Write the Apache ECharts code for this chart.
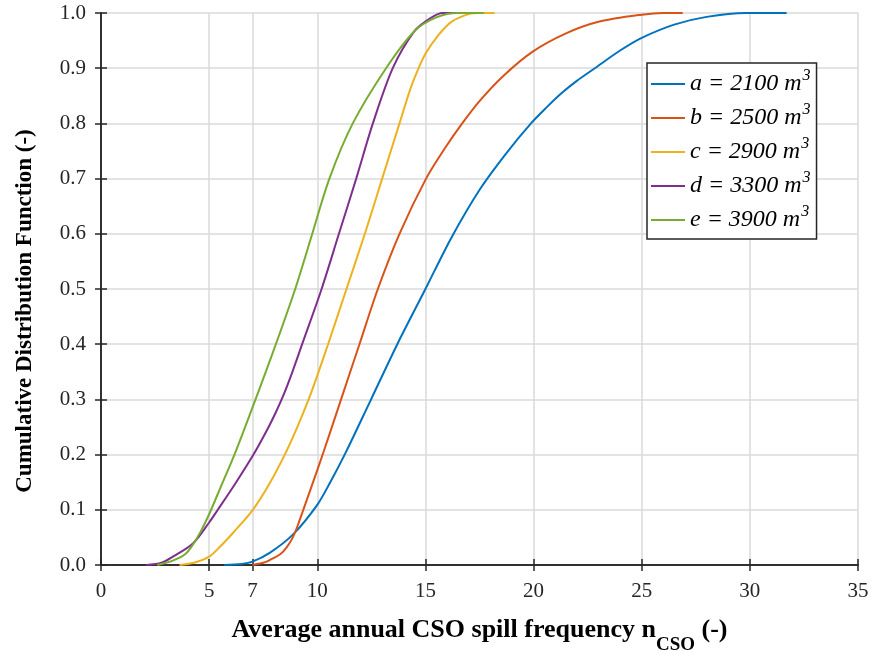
<!DOCTYPE html>
<html>
<head>
<meta charset="utf-8">
<script src="https://cdn.jsdelivr.net/npm/echarts@6/dist/echarts.min.js"></script>
<style>
  html, body { margin: 0; padding: 0; background: #fff; }
  #chart { width: 873px; height: 656px; }
</style>
</head>
<body>
<div id="chart"></div>
<script>
// Cumulative distribution of the average annual CSO spill frequency for five storage volumes
const seriesNames = ['a = 2100 m', 'b = 2500 m', 'c = 2900 m', 'd = 3300 m', 'e = 3900 m'];
const seriesColors = ['#0072BD', '#D95319', '#EDB120', '#7E2F8E', '#77AC30'];

const xTicks = [0, 5, 7, 10, 15, 20, 25, 30, 35];

// [spill frequency, cumulative probability]
const cdfA = [[5.7,0],[6.5,0.002],[7.0,0.006],[7.8,0.022],[8.87,0.055],[10.0,0.109],[10.6,0.15],[11.33,0.205],[12.45,0.297],[13.7,0.40],[15.0,0.50],[16.2,0.593],[17.49,0.679],[18.7,0.744],[19.88,0.80],[20.6,0.829],[21.3,0.855],[22.0,0.877],[22.8,0.899],[24.0,0.932],[25.0,0.955],[26.5,0.979],[28.0,0.993],[29.8,1.0],[31.7,1.0]];
const cdfB = [[7.0,0],[7.5,0.004],[7.8,0.009],[8.3,0.02],[8.6,0.033],[8.87,0.05],[9.1,0.072],[9.3,0.094],[10.0,0.172],[10.3,0.206],[11.1,0.30],[11.95,0.40],[12.8,0.50],[13.8,0.60],[15.03,0.70],[15.9,0.755],[16.7,0.80],[17.49,0.84],[18.6,0.886],[19.96,0.93],[21.5,0.963],[23.0,0.984],[25.0,0.997],[26.0,1.0],[26.9,1.0]];
const cdfC = [[3.63,0],[4.3,0.004],[5.0,0.015],[5.5,0.033],[6.1,0.058],[7.02,0.10],[7.8,0.148],[8.56,0.205],[9.1,0.252],[9.6,0.30],[10.0,0.343],[10.5,0.40],[11.35,0.50],[12.2,0.60],[13.0,0.70],[13.8,0.80],[14.3,0.862],[14.63,0.895],[15.0,0.926],[15.6,0.96],[16.2,0.984],[17.0,0.998],[17.5,1.0],[18.2,1.0]];
const cdfD = [[2.09,0],[2.8,0.004],[3.32,0.015],[4.25,0.039],[5.0,0.077],[5.4,0.10],[6.25,0.15],[7.05,0.20],[7.75,0.25],[8.1,0.278],[8.45,0.309],[8.85,0.35],[9.3,0.40],[10.2,0.50],[11.0,0.60],[11.8,0.70],[12.57,0.80],[13.49,0.90],[14.49,0.967],[15.2,0.99],[15.8,1.0],[16.7,1.0]];
const cdfE = [[2.6,0],[3.32,0.008],[3.9,0.02],[4.25,0.037],[4.6,0.06],[5.0,0.092],[5.5,0.138],[6.17,0.20],[7.0,0.285],[7.6,0.348],[8.25,0.418],[8.98,0.50],[9.52,0.568],[9.72,0.594],[10.56,0.70],[11.64,0.80],[13.18,0.90],[14.49,0.967],[15.5,0.992],[16.5,1.0],[17.7,1.0]];

const seriesData = [cdfA, cdfB, cdfC, cdfD, cdfE];

const serif = "'Liberation Serif', 'Times New Roman', serif";
const axisColor = '#262626';

const chart = echarts.init(document.getElementById('chart'), null, { renderer: 'canvas' });

const series = seriesData.map((d, i) => ({
  name: seriesNames[i],
  type: 'line',
  data: d,
  showSymbol: false,
  smooth: 0.3,
  lineStyle: { color: seriesColors[i], width: 2 },
  itemStyle: { color: seriesColors[i] },
  emphasis: { disabled: true }
}));

chart.setOption({
  animation: false,
  backgroundColor: '#fff',
  grid: { left: 101, right: 15, top: 13, bottom: 91, containLabel: false, outerBoundsMode: 'none' },
  legend: {
    orient: 'vertical',
    left: 647,
    top: 63,
    backgroundColor: '#fff',
    borderColor: axisColor,
    borderWidth: 1.5,
    borderRadius: 0,
    padding: [5, 6, 7, 4],
    itemGap: 6,
    itemWidth: 34,
    itemHeight: 2,
    icon: 'rect',
    data: seriesNames,
    formatter: name => '{t|' + name + '}{sup|3}',
    textStyle: {
      color: '#000',
      rich: {
        t: { fontFamily: serif, fontStyle: 'italic', fontSize: 24, lineHeight: 28, color: '#000' },
        sup: { fontFamily: serif, fontStyle: 'italic', fontSize: 16, color: '#000', padding: [0, 0, 16, 1] }
      }
    }
  },
  xAxis: [{
    type: 'value',
    min: 0, max: 35, interval: 5,
    position: 'bottom',
    name: '{t|Average annual CSO spill frequency n}{sub|CSO}{t| (-)}',
    nameLocation: 'middle',
    nameGap: 41,
    nameTextStyle: {
      rich: {
        t: { fontFamily: serif, fontWeight: 'bold', fontSize: 26, color: '#000' },
        sub: { fontFamily: serif, fontWeight: 'bold', fontSize: 19, color: '#000', padding: [30, 0, 0, 0], verticalAlign: 'bottom' }
      }
    },
    axisLine: { show: true, lineStyle: { color: axisColor, width: 1.5 } },
    axisTick: { show: true, inside: true, length: 6, customValues: xTicks, lineStyle: { color: axisColor, width: 1.5 } },
    axisLabel: { customValues: xTicks, fontFamily: serif, fontSize: 21, color: axisColor, margin: 16 },
    splitLine: { show: true, lineStyle: { color: '#dadada', width: 1.5 } }
  }, {
    type: 'value',
    min: 0, max: 35, interval: 5,
    position: 'top',
    axisLine: { show: true, lineStyle: { color: axisColor, width: 1.5 } },
    axisTick: { show: true, inside: true, length: 6, customValues: xTicks, lineStyle: { color: axisColor, width: 1.5 } },
    axisLabel: { show: false },
    splitLine: { show: false }
  }],
  yAxis: [{
    type: 'value',
    min: 0, max: 1, interval: 0.1,
    position: 'left',
    name: 'Cumulative Distribution Function (-)',
    nameLocation: 'middle',
    nameGap: 64,
    nameTextStyle: { fontFamily: serif, fontWeight: 'bold', fontSize: 23, color: '#000', padding: [0, 44, 0, 0] },
    axisLine: { show: true, lineStyle: { color: axisColor, width: 1.5 } },
    axisTick: { show: true, inside: true, length: 6, lineStyle: { color: axisColor, width: 1.5 } },
    axisLabel: { fontFamily: serif, fontSize: 21, color: axisColor, margin: 15, formatter: v => v.toFixed(1) },
    splitLine: { show: true, lineStyle: { color: '#dadada', width: 1.5 } }
  }, {
    type: 'value',
    min: 0, max: 1, interval: 0.1,
    position: 'right',
    axisLine: { show: true, lineStyle: { color: axisColor, width: 1.5 } },
    axisTick: { show: true, inside: true, length: 6, lineStyle: { color: axisColor, width: 1.5 } },
    axisLabel: { show: false },
    splitLine: { show: false }
  }],
  series: series
});
</script>
</body>
</html>
